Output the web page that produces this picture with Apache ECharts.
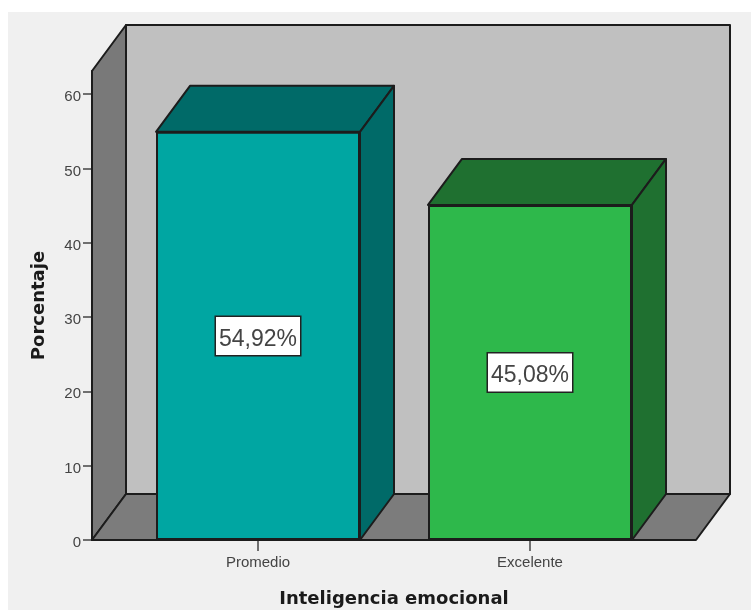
<!DOCTYPE html>
<html>
<head>
<meta charset="utf-8">
<style>html,body{margin:0;padding:0;background:#fff}#chart{width:751px;height:610px}</style>
<script src="https://cdn.jsdelivr.net/npm/echarts@6/dist/echarts.min.js"></script>
</head>
<body>
<div id="chart"></div>
<script>
// Inteligencia emocional: percentage per level, drawn as 3D-look columns
const categories = ['Promedio', 'Excelente'];
const porcentajes = [54.92, 45.08];
const frontColors = ['#00a6a2', '#2eb84b'];
const sideColors = ['#006a68', '#1f7030'];
const yTicks = [0, 10, 20, 30, 40, 50, 60];

const DEPTH_X = 34, DEPTH_Y = -46, OVERHANG = 30, EDGE = '#1c1c1c';
const Y_MAX = 63.1;

const chart = echarts.init(document.getElementById('chart'), null, {renderer: 'canvas'});

function poly(points, fill, width) {
  return {type: 'polygon', shape: {points},
    style: {fill, stroke: EDGE, lineWidth: width || 2, lineJoin: 'round'}};
}

// Back wall, side wall and floor of the plot box
function renderBox(params, api) {
  const cs = params.coordSys;
  const l = cs.x - OVERHANG, r = cs.x + cs.width + OVERHANG;
  const b = cs.y + cs.height, t = cs.y;
  const dx = DEPTH_X, dy = DEPTH_Y;
  return {type: 'group', children: [
    poly([[l + dx, t + dy], [r + dx, t + dy], [r + dx, b + dy], [l + dx, b + dy]], '#c0c0c0'),
    poly([[l, t], [l + dx, t + dy], [l + dx, b + dy], [l, b]], '#797979'),
    poly([[l, b], [l + dx, b + dy], [r + dx, b + dy], [r, b]], '#7c7c7c')
  ]};
}

// Top and side faces of a column, offset from its front face
function renderDepth(params, api) {
  const i = api.value(0);
  const top = api.coord([i, api.value(1)]);
  const base = api.coord([i, 0]);
  const half = api.size([1, 0])[0] * 0.375;
  const l = top[0] - half, r = top[0] + half;
  const dx = DEPTH_X, dy = DEPTH_Y;
  const fill = sideColors[i];
  return {type: 'group', children: [
    poly([[l, top[1]], [l + dx, top[1] + dy], [r + dx, top[1] + dy], [r, top[1]]], fill),
    poly([[r, top[1]], [r + dx, top[1] + dy], [r + dx, base[1] + dy], [r, base[1]]], fill)
  ]};
}

const pct = v => v.toFixed(2).replace('.', ',') + '%';

chart.setOption({
  animation: false,
  backgroundColor: '#ffffff',
  graphic: [{type: 'rect', z: -10, shape: {x: 8, y: 12, width: 743, height: 598}, style: {fill: '#f0f0f0'}}],
  grid: {left: 122, right: 85, top: 71, bottom: 70, outerBoundsMode: 'none'},
  xAxis: {
    type: 'category',
    data: categories,
    name: 'Inteligencia emocional',
    nameLocation: 'middle',
    nameGap: 50,
    nameTextStyle: {fontFamily: 'DejaVu Sans', fontWeight: 'bold', fontSize: 18, color: '#1a1a1a'},
    axisLine: {show: true, lineStyle: {color: EDGE, width: 2}},
    axisTick: {show: true, alignWithLabel: true, length: 11, lineStyle: {color: '#444', width: 1.5}},
    axisLabel: {margin: 15, fontFamily: 'Liberation Sans', fontSize: 15, color: '#444'},
    splitLine: {show: false}
  },
  yAxis: {
    type: 'value',
    min: 0,
    max: Y_MAX,
    interval: 10,
    offset: OVERHANG,
    name: 'Porcentaje',
    nameLocation: 'middle',
    nameGap: 44,
    nameRotate: 90,
    nameTextStyle: {fontFamily: 'DejaVu Sans', fontWeight: 'bold', fontSize: 18, color: '#1a1a1a'},
    axisLine: {show: true, lineStyle: {color: EDGE, width: 2}},
    axisTick: {show: true, length: 9, lineStyle: {color: '#444', width: 1.5}},
    axisLabel: {margin: 11, verticalAlign: 'top', lineHeight: 6, fontFamily: 'Liberation Sans', fontSize: 15, color: '#444',
      formatter: v => yTicks.includes(v) ? String(v) : '', showMaxLabel: false},
    splitLine: {show: false}
  },
  series: [
    {type: 'custom', clip: false, silent: true, z: 1, renderItem: renderBox, data: [[0, 0]],
      encode: {x: 0, y: 1}},
    {type: 'custom', clip: false, silent: true, z: 2, renderItem: renderDepth,
      data: porcentajes.map((v, i) => [i, v]), encode: {x: 0, y: 1}},
    {type: 'bar', z: 3, barWidth: '75%',
      data: porcentajes.map((v, i) => ({value: v, itemStyle: {color: frontColors[i]}})),
      itemStyle: {borderColor: EDGE, borderWidth: 2},
      label: {show: true, position: 'inside', formatter: p => '{v|' + pct(p.value) + '}',
        backgroundColor: '#fff', borderColor: '#222', borderWidth: 1.5, padding: [3, 0, 4, 0],
        rich: {v: {fontFamily: 'Liberation Sans', fontSize: 23, color: '#444', padding: [8, 3, 0, 3]}}}}
  ]
});
</script>
</body>
</html>
